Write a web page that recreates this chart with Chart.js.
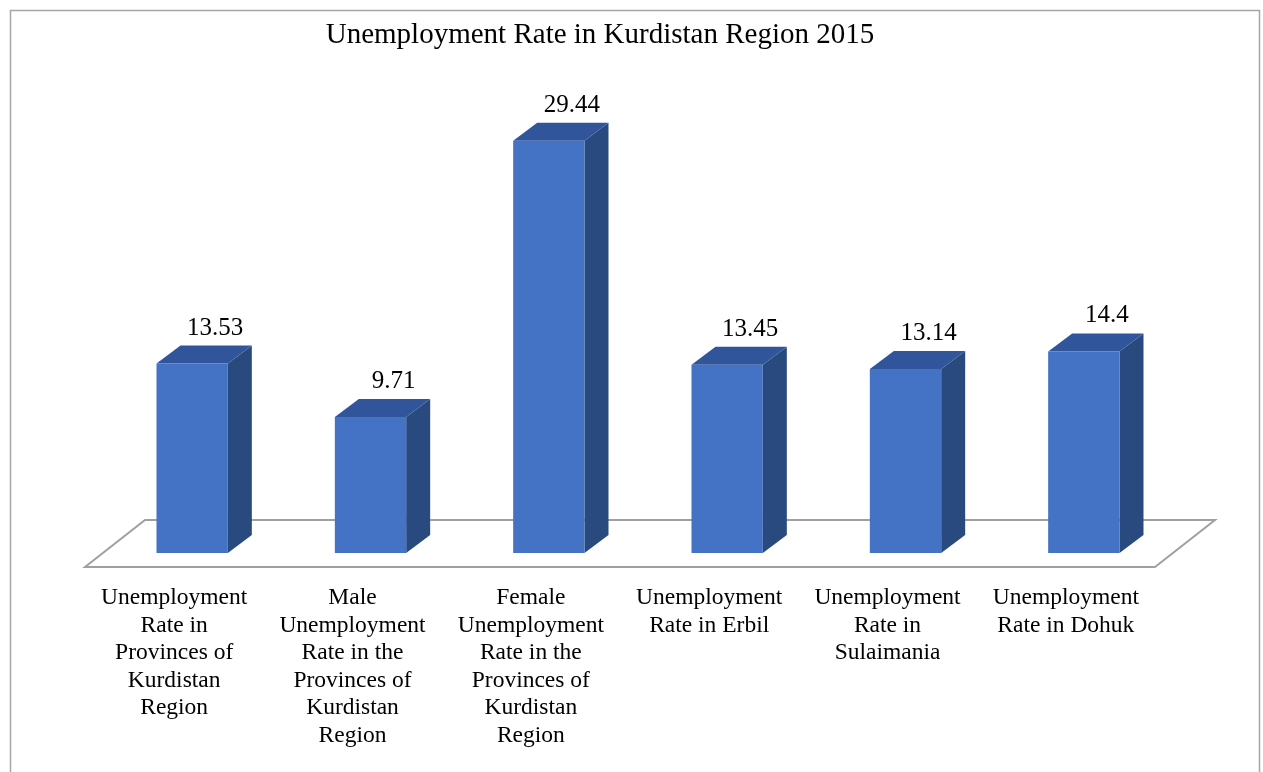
<!DOCTYPE html>
<html>
<head>
<meta charset="utf-8">
<script src="https://cdn.jsdelivr.net/npm/chart.js@4.4.0/dist/chart.umd.min.js"></script>
<style>
  html, body { margin: 0; padding: 0; background: #fff; }
  #wrap { width: 1263px; height: 772px; }
</style>
</head>
<body>
<div id="wrap"><canvas id="myCanvas"></canvas></div>
<script>
const chartTitle = "Unemployment Rate in Kurdistan Region 2015";
const categories = [
  ["Unemployment", "Rate in", "Provinces of", "Kurdistan", "Region"],
  ["Male", "Unemployment", "Rate in the", "Provinces of", "Kurdistan", "Region"],
  ["Female", "Unemployment", "Rate in the", "Provinces of", "Kurdistan", "Region"],
  ["Unemployment", "Rate in Erbil"],
  ["Unemployment", "Rate in", "Sulaimania"],
  ["Unemployment", "Rate in Dohuk"],
];
const rates = [13.53, 9.71, 29.44, 13.45, 13.14, 14.4];

const FONT = "'Liberation Serif', 'Times New Roman', serif";
const FRONT = "#4472c4";
const TOP = "#30559a";
const SIDE = "#294a7f";

// fake 3d offsets
const barDepth = { dx: 24, dy: -18 };
const barShift = { dx: 18, dy: -14 };
const floorDepth = { dx: 60, dy: -47 };

const bars3d = {
  id: "bars3d",
  beforeDatasetsDraw(chart) {
    const { ctx, chartArea: a } = chart;
    ctx.save();
    ctx.strokeStyle = "#a6a6a6";
    ctx.lineWidth = 1.5;
    ctx.strokeRect(10.5, 10.5, 1249, 800);

    ctx.strokeStyle = "#a0a0a0";
    ctx.lineWidth = 2;
    ctx.beginPath();
    ctx.moveTo(a.left, a.bottom);
    ctx.lineTo(a.left + floorDepth.dx, a.bottom + floorDepth.dy);
    ctx.lineTo(a.right + floorDepth.dx, a.bottom + floorDepth.dy);
    ctx.lineTo(a.right, a.bottom);
    ctx.closePath();
    ctx.stroke();
    ctx.restore();

    const meta = chart.getDatasetMeta(0);
    ctx.save();
    ctx.translate(barShift.dx, barShift.dy);
    meta.data.forEach((bar) => {
      const { x, y, base, width } = bar.getProps(["x", "y", "base", "width"], true);
      const l = x - width / 2;
      const r = x + width / 2;
      const dx = barDepth.dx, dy = barDepth.dy;
      ctx.fillStyle = SIDE;
      ctx.beginPath();
      ctx.moveTo(r, y);
      ctx.lineTo(r + dx, y + dy);
      ctx.lineTo(r + dx, base + dy);
      ctx.lineTo(r, base);
      ctx.closePath();
      ctx.fill();
      ctx.fillStyle = TOP;
      ctx.beginPath();
      ctx.moveTo(l, y);
      ctx.lineTo(l + dx, y + dy);
      ctx.lineTo(r + dx, y + dy);
      ctx.lineTo(r, y);
      ctx.closePath();
      ctx.fill();
    });
    // front faces are drawn by chart.js inside this translate
  },
  afterDatasetsDraw(chart) {
    const { ctx } = chart;
    ctx.restore();

    const meta = chart.getDatasetMeta(0);
    ctx.save();
    ctx.fillStyle = "#000";
    ctx.font = "25px " + FONT;
    ctx.textAlign = "center";
    ctx.textBaseline = "alphabetic";
    meta.data.forEach((bar, i) => {
      ctx.fillText(String(rates[i]), bar.x + 41, bar.y + barShift.dy - 29);
    });
    ctx.restore();
  },
  afterDraw(chart) {
    const { ctx } = chart;
    ctx.save();
    ctx.fillStyle = "#000";
    ctx.font = "29px " + FONT;
    ctx.textAlign = "center";
    ctx.textBaseline = "middle";
    ctx.fillText(chartTitle, 600, 35);
    ctx.restore();
  },
};

new Chart(document.getElementById("myCanvas"), {
  type: "bar",
  data: {
    labels: categories,
    datasets: [
      {
        label: "Unemployment rate",
        data: rates,
        backgroundColor: FRONT,
        borderWidth: 0,
        barPercentage: 0.4,
        categoryPercentage: 1,
        clip: false,
      },
    ],
  },
  options: {
    responsive: true,
    maintainAspectRatio: false,
    animation: false,
    layout: {
      padding: { left: 85, right: 108, top: 119, bottom: 0 },
    },
    plugins: {
      legend: { display: false },
      title: { display: false },
      tooltip: { enabled: false },
    },
    scales: {
      y: {
        display: false,
        min: 0,
        max: 32,
      },
      x: {
        border: { display: false },
        grid: { display: false, drawTicks: false },
        afterFit(scale) {
          scale.height = 205;
        },
        ticks: {
          color: "#000",
          padding: 17,
          maxRotation: 0,
          autoSkip: false,
          font: { family: FONT, size: 23.5, lineHeight: 1.175 },
        },
      },
    },
  },
  plugins: [bars3d],
});
</script>
</body>
</html>
